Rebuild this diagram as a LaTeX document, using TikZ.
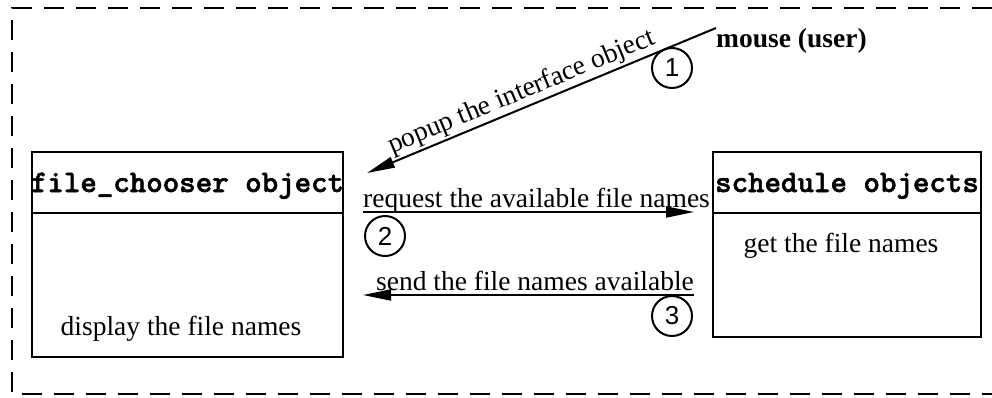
\documentclass[tikz,border=0pt]{standalone}
\usepackage{fontspec}
\setmainfont{Liberation Serif}
\newfontfamily\digitfont{Liberation Sans}
\newfontfamily\codefont{lmmonolt10-bold.otf}[FakeBold=1.6]
\usetikzlibrary{arrows.meta,calc}

\begin{document}
\begin{tikzpicture}[x=1pt,y=-1pt,
  txt/.style={font=\fontsize{27.5}{33}\selectfont, inner sep=0pt},
  code/.style={font=\fontsize{31.4}{36}\selectfont\codefont, inner sep=0pt},
  objbox/.style={draw, line width=2.5pt, inner sep=0pt},
  msg/.style={line width=2pt, -{Triangle[length=28pt,width=11pt]}},
  stepnum/.style={circle, draw, line width=2pt, minimum size=40pt, inner sep=0pt,
                  font=\fontsize{26}{30}\selectfont\digitfont},
  frame/.style={line width=2.2pt, dash pattern=on 20pt off 12pt}
]
\useasboundingbox (0,0) rectangle (992,397);

% dashed boundary of the subsystem
\draw[frame] (992,8) -- (12,8) -- (12,394) -- (992,394);

% object boxes
\node[objbox, minimum width=311pt, minimum height=205pt] (fc) at (187.5,254.5) {};
\node[objbox, minimum width=268pt, minimum height=185pt] (sc) at (847,244.5) {};
\draw[line width=2.5pt] (fc.west |- 0,213) -- (fc.east |- 0,213);
\draw[line width=2.5pt] (sc.west |- 0,213) -- (sc.east |- 0,213);

% box titles and activities
\node[code, anchor=base] (fctitle) at (187.5,192) {file\_chooser object};
\node[code, anchor=base] (sctitle) at (847,192) {schedule objects};
\node[txt, anchor=base] (fcact) at (181,335) {display the file names};
\node[txt, anchor=base] (scact) at (841,252) {get the file names};

% the user
\node[txt, anchor=base west, font=\fontsize{27.5}{33}\selectfont\bfseries] (user) at (716,47) {mouse (user)};

% connector end points
\coordinate (m1s) at (716,28);
\coordinate (m1e) at (367,173);
\coordinate (m2s) at (363,212);
\coordinate (m2e) at (694,212);
\coordinate (m3s) at (694,295);
\coordinate (m3e) at (363,295);

% messages
\draw[msg] (m1s) -- (m1e)
  node[txt, pos=0.54, sloped, above, inner sep=1.5pt] (lab1) {popup the interface object};
\draw[msg] (m2s) -- (m2e);
\draw[msg] (m3s) -- (m3e);
\node[txt, anchor=base west] (lab2) at (363,207) {request the available file names};
\node[txt, anchor=base east] (lab3) at (694,290) {send the file names available};

% step numbers
\node[stepnum] (n1) at (672,68) {1};
\node[stepnum] (n2) at (385,236) {2};
\node[stepnum] (n3) at (672,316) {3};
\end{tikzpicture}
\end{document}
